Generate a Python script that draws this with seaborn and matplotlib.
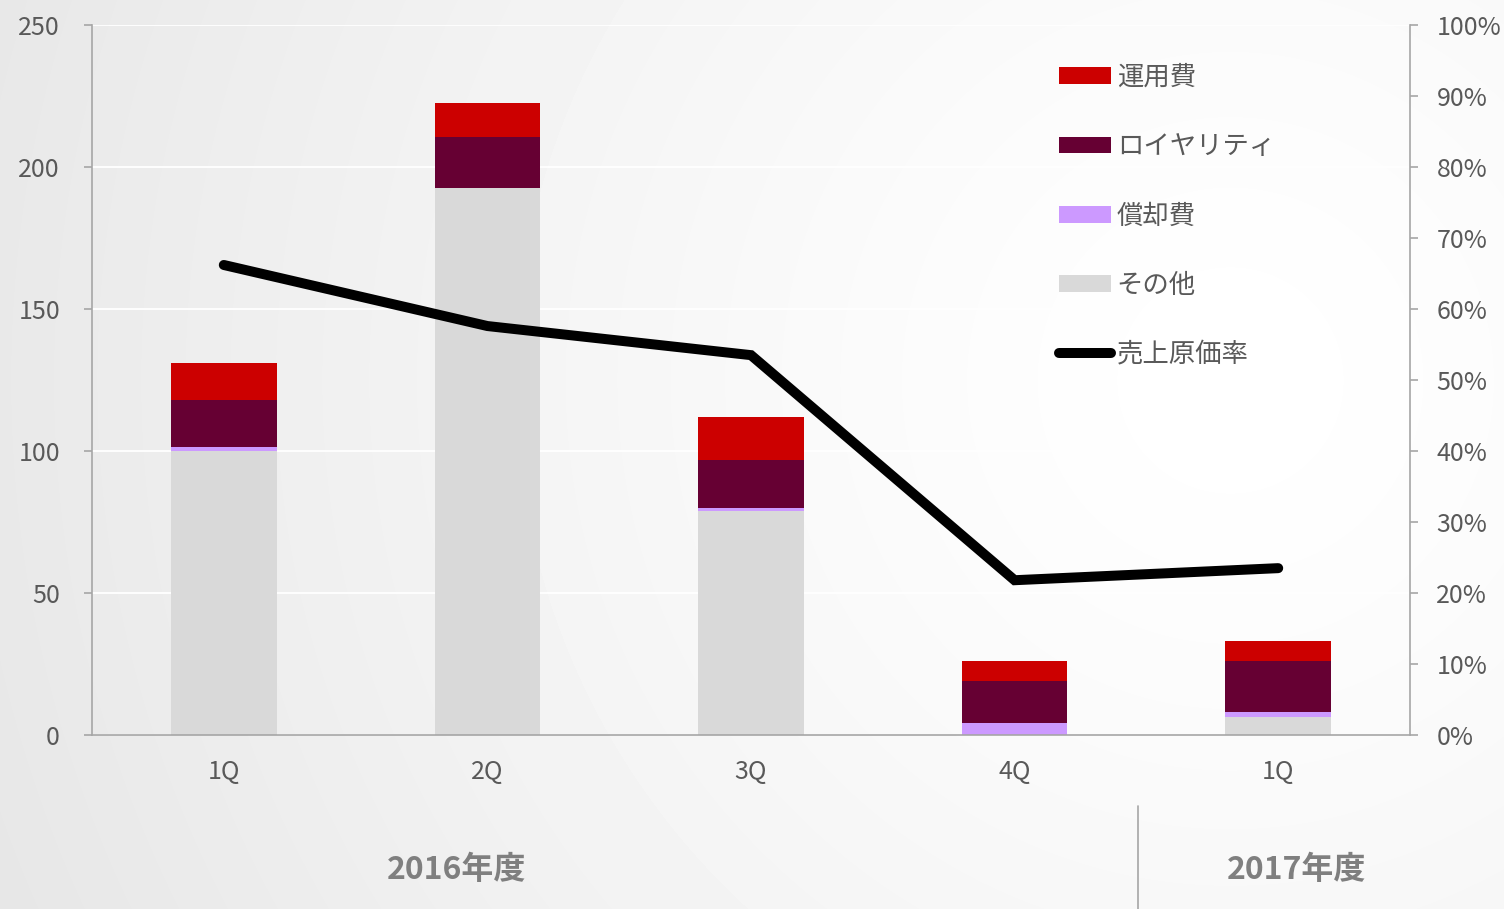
import numpy as np
import pandas as pd
import matplotlib
matplotlib.use("Agg")
import matplotlib.pyplot as plt
import seaborn as sns
from matplotlib.lines import Line2D
from matplotlib.patches import Patch
from matplotlib.ticker import MultipleLocator, FixedLocator, PercentFormatter

# data
periods = ["2016-1Q", "2016-2Q", "2016-3Q", "2016-4Q", "2017-1Q"]
quarter_labels = ["1Q", "2Q", "3Q", "4Q", "1Q"]
other = [100.0, 192.6, 79.0, 0.0, 6.2]          # その他
amortization = [1.5, 0.0, 1.0, 4.2, 2.0]        # 償却費
royalty = [16.5, 18.1, 16.8, 14.9, 18.0]        # ロイヤリティ
operation = [13.0, 11.8, 15.2, 7.1, 6.9]        # 運用費
cost_ratio = [66.2, 57.6, 53.5, 21.8, 23.5]     # 売上原価率 (%)
years = ["2016年度", "2017年度"]

series_names = ["運用費", "ロイヤリティ", "償却費", "その他"]
series_colors = ["#cc0000", "#660033", "#cc99ff", "#d9d9d9"]
line_name = "売上原価率"

TEXT = "#595959"
SPINE = "#a6a6a6"

df = pd.DataFrame({"period": periods, "other": other, "amort": amortization,
                   "royalty": royalty, "operation": operation})
# cumulative tops, drawn from the tallest layer down so each one covers the next
df["top_other"] = df["other"]
df["top_amort"] = df["top_other"] + df["amort"]
df["top_royalty"] = df["top_amort"] + df["royalty"]
df["top_operation"] = df["top_royalty"] + df["operation"]
layers = ["top_operation", "top_royalty", "top_amort", "top_other"]

sns.set_theme(style="white")
plt.rcParams["font.family"] = ["Noto Sans CJK JP", "DejaVu Sans"]

fig = plt.figure(figsize=(15.04, 9.09), dpi=100)

# soft radial background, white near the right middle, grey toward the left
bg = fig.add_axes([0, 0, 1, 1], zorder=-10)
W, H = 1504, 909
xx, yy = np.meshgrid(np.arange(W), np.arange(H))
d = np.hypot(xx - 1230, yy - 380) / 1370.0
shade = 1.0 - 0.10 * np.clip(d, 0, 1.2) ** 1.3
bg.imshow(shade, cmap="gray", vmin=0, vmax=1, extent=(0, 1, 0, 1),
          aspect="auto", origin="upper", interpolation="bilinear")
bg.axis("off")

ax = fig.add_axes([92 / W, 1 - 735 / H, (1410 - 92) / W, (735 - 25) / H])
ax.patch.set_alpha(0)

for col, color in zip(layers, series_colors):
    sns.barplot(data=df, x="period", y=col, order=periods, color=color,
                width=0.4, saturation=1, errorbar=None, linewidth=0, ax=ax)

ax.set_ylim(0, 250)
ax.set_xlim(-0.5, 4.5)
ax.yaxis.set_major_locator(MultipleLocator(50))
ax.yaxis.grid(True, color="white", linewidth=1.3)
ax.set_axisbelow(True)
ax.set_xlabel("")
ax.set_ylabel("")

ax2 = ax.twinx()
sns.lineplot(x=list(range(len(periods))), y=cost_ratio, ax=ax2, color="black",
             linewidth=7.2, solid_capstyle="round", solid_joinstyle="miter")
ax2.set_ylim(0, 100)
ax2.yaxis.set_major_locator(MultipleLocator(10))
ax2.yaxis.set_major_formatter(PercentFormatter(decimals=0))
ax2.set_ylabel("")
ax2.set_xlim(-0.5, 4.5)

ax.set_xticks(range(len(periods)))
ax.set_xticklabels(quarter_labels)
ax.xaxis.set_minor_locator(FixedLocator(np.arange(-0.5, 5.0, 1.0)))
ax.tick_params(axis="x", which="major", length=0, pad=17, labelsize=18, labelcolor=TEXT)
ax.tick_params(axis="x", which="minor", length=6, width=1.2, color=SPINE, direction="out")
ax.tick_params(axis="y", length=6, width=1.2, color=SPINE, pad=17, labelsize=18,
               labelcolor=TEXT, left=True)
ax2.tick_params(axis="y", length=6, width=1.2, color=SPINE, pad=13, labelsize=18,
                labelcolor=TEXT, right=True)

for a in (ax, ax2):
    for s in a.spines.values():
        s.set_visible(False)
ax.spines["left"].set_visible(True)
ax.spines["bottom"].set_visible(True)
ax2.spines["right"].set_visible(True)
for s in (ax.spines["left"], ax.spines["bottom"], ax2.spines["right"]):
    s.set_color(SPINE)
    s.set_linewidth(1.2)

handles = [Patch(facecolor=c, edgecolor="none") for c in series_colors]
handles.append(Line2D([0], [0], color="black", linewidth=7.2, solid_capstyle="round"))
fig.legend(handles, series_names + [line_name], loc="upper left",
           bbox_to_anchor=(1059 / W, 1 - 64 / H), frameon=False, fontsize=19,
           labelcolor=TEXT, handlelength=1.97, handleheight=0.6,
           handletextpad=0.22, labelspacing=1.60, borderpad=0, borderaxespad=0)

# fiscal year labels under the quarters
fig.text(457 / W, 1 - 870 / H, years[0], ha="center", va="center",
         fontsize=23, fontweight="bold", color="#7f7f7f")
fig.text(1297 / W, 1 - 870 / H, years[1], ha="center", va="center",
         fontsize=23, fontweight="bold", color="#7f7f7f")
fig.add_artist(Line2D([1138 / W, 1138 / W], [0, 1 - 806 / H],
                      transform=fig.transFigure, color=SPINE, linewidth=1.2))

fig.savefig("out.png", dpi=100)
